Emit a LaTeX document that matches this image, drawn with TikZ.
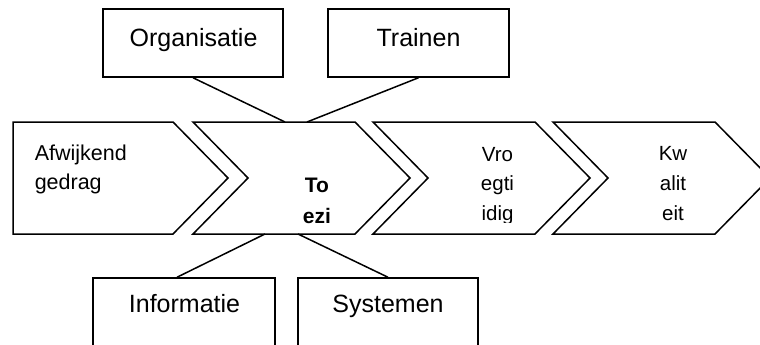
\documentclass[tikz,border=0pt]{standalone}
\usepackage{fontspec}
\setmainfont{Liberation Sans}
\begin{document}
\begin{tikzpicture}[x=1pt,y=-1pt,line width=1.5pt,line join=miter,
  box/.style={draw,rectangle,line width=1.5pt,inner sep=0pt},
  lbl/.style={anchor=base,inner sep=0pt,font=\fontsize{25}{28}\selectfont},
  chl/.style={anchor=base,inner sep=0pt,font=\fontsize{20.5}{24}\selectfont},
  chb/.style={anchor=base,inner sep=0pt,font=\bfseries\fontsize{21}{24}\selectfont}]
\useasboundingbox (0,0) rectangle (760,345);
\clip (0,0) rectangle (760,345);
% chevrons
\draw (13,122) -- (173,122) -- (228,178) -- (173,234) -- (13,234) -- cycle;
\draw (193,122) -- (355,122) -- (410,178) -- (355,234) -- (193,234) -- (248,178) -- cycle;
\draw (373,122) -- (535,122) -- (590,178) -- (535,234) -- (373,234) -- (428,178) -- cycle;
\draw (553,122) -- (715,122) -- (770,178) -- (715,234) -- (553,234) -- (608,178) -- cycle;
\coordinate (t1) at (285,122);
\coordinate (t2) at (307,122);
\coordinate (b1) at (265,234);
\coordinate (b2) at (298,234);
% boxes
\node[box,minimum width=180pt,minimum height=68pt] (org) at (193,43) {};
\node[box,minimum width=181pt,minimum height=68pt] (trn) at (418.5,43) {};
\node[box,minimum width=182pt,minimum height=130pt] (inf) at (184,343) {};
\node[box,minimum width=180pt,minimum height=130pt] (sys) at (388,343) {};
\node[lbl] (orgt) at (193.5,47) {Organisatie};
\node[lbl] (trnt) at (418.5,47) {Trainen};
\node[lbl] (inft) at (184.5,312) {Informatie};
\node[lbl] (syst) at (388,312) {Systemen};
% connectors
\draw (org.south) -- (t1);
\draw (trn.south) -- (t2);
\draw (b1) -- ([xshift=-7pt]inf.north);
\draw (b2) -- (sys.north);
% chevron texts
\node[chl,anchor=base west,font=\fontsize{21.5}{24}\selectfont] (c1a) at (34,160) {Afwijkend};
\node[chl,anchor=base west,font=\fontsize{21.5}{24}\selectfont] (c1b) at (34,189) {gedrag};
\node[chb] (c2a) at (317,192) {To};
\node[chb] (c2b) at (317,223) {ezi};
\begin{scope}
\clip (373,122) rectangle (560,222.5);
\node[chl] (c3a) at (497.5,161) {Vro};
\node[chl] (c3b) at (497.5,190) {egti};
\node[chl] (c3c) at (497.5,220) {idig};
\end{scope}
\node[chl] (c4a) at (673,160) {Kw};
\node[chl] (c4b) at (673,190) {alit};
\node[chl] (c4c) at (673,220) {eit};
\end{tikzpicture}
\end{document}
